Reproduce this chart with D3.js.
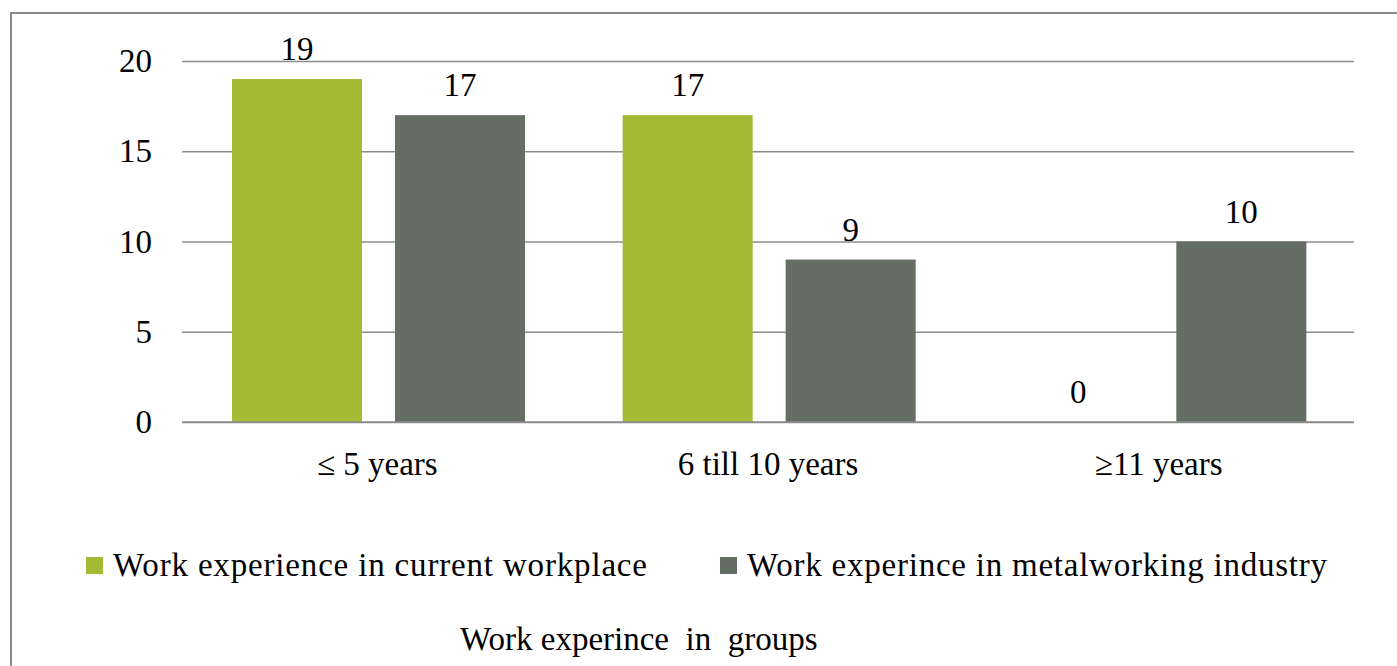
<!DOCTYPE html>
<html><head><meta charset="utf-8">
<script src="https://cdn.jsdelivr.net/npm/d3@7"></script>
<style>body{margin:0;background:#fff}svg{display:block}text{font-family:"Liberation Serif","Times New Roman",serif;fill:#000;white-space:pre}</style>
</head><body><svg id="c" width="1397" height="666"></svg>
<script>
const categories = ["\u2264 5 years", "6 till 10 years", "\u226511 years"];
const seriesNames = ["Work experience in current workplace", "Work experince in metalworking industry"];
const currentWorkplace = [19, 17, 0];
const metalworking = [17, 9, 10];
const yTicks = [0, 5, 10, 15, 20];
const colors = ["#a4b934", "#646e64"];
const xTitle = "Work experince  in  groups";

(function () {
const svg = d3.select("#c");
svg.append("rect").attr("x", 11).attr("y", 13).attr("width", 1400).attr("height", 700)
  .attr("fill", "#fff").attr("stroke", "#8a8a8a").attr("stroke-width", 2);

const pL = 182, pR = 1354, pT = 61, pB = 422;
const x = d3.scaleBand().domain(categories).range([pL, pR]).paddingInner(0).paddingOuter(0);
const y = d3.scaleLinear().domain([0, 20]).range([pB, pT]);
const inner = d3.scaleBand().domain([0, 1]).range([50, 343]).paddingInner(33 / 163).paddingOuter(0);

const yAxis = d3.axisLeft(y).tickValues(yTicks).tickSize(-(pR - pL)).tickPadding(30);
const ga = svg.append("g").attr("transform", `translate(${pL},0)`).call(yAxis);
ga.select(".domain").remove();
ga.selectAll(".tick line").attr("stroke", "#8c8c8c").attr("stroke-width", 1.5);
ga.selectAll(".tick text").attr("font-size", 33).attr("font-family", "Liberation Serif").attr("fill", "#000").attr("x", -30).attr("dy", "0.32em");

const series = [currentWorkplace, metalworking];
series.forEach((vals, si) => {
  const g = svg.append("g");
  g.selectAll("rect").data(vals).join("rect")
    .attr("x", (d, i) => x(categories[i]) + inner(si))
    .attr("y", d => y(d))
    .attr("width", inner.bandwidth())
    .attr("height", d => y(0) - y(d))
    .attr("fill", colors[si]);
  g.selectAll("text").data(vals).join("text")
    .attr("x", (d, i) => x(categories[i]) + inner(si) + inner.bandwidth() / 2)
    .attr("y", d => y(d) - 19)
    .attr("text-anchor", "middle").attr("font-size", 33)
    .text(d => d);
});
svg.append("line").attr("x1", pL).attr("x2", pR).attr("y1", y(0)).attr("y2", y(0))
  .attr("stroke", "#8c8c8c").attr("stroke-width", 1.5);

const xAxis = d3.axisBottom(x).tickSize(0).tickPadding(0);
const gx = svg.append("g").attr("transform", `translate(0,${pB})`).call(xAxis);
gx.select(".domain").remove();
gx.selectAll(".tick text").attr("font-size", 33).attr("font-family", "Liberation Serif").attr("fill", "#000").attr("y", 53).attr("dy", 0);

const legX = [86, 720];
const legW = [534, 580];
seriesNames.forEach((n, i) => {
  svg.append("rect").attr("x", legX[i]).attr("y", 557).attr("width", 17).attr("height", 17).attr("fill", colors[i]);
  svg.append("text").attr("x", legX[i] + 27).attr("y", 576).attr("font-size", 33)
    .attr("textLength", legW[i]).attr("lengthAdjust", "spacing").text(n);
});
svg.append("text").attr("x", 460).attr("y", 650).attr("font-size", 33).text(xTitle);
})();
</script></body></html>
